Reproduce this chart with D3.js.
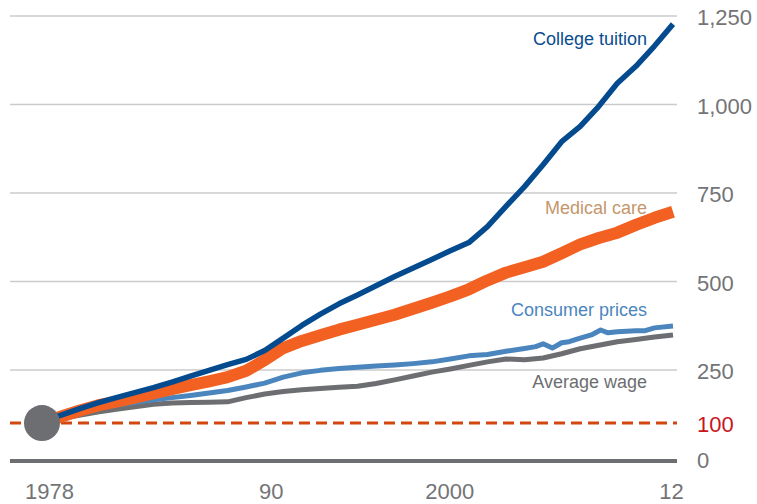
<!DOCTYPE html>
<html>
<head>
<meta charset="utf-8">
<script src="https://cdn.jsdelivr.net/npm/d3@7/dist/d3.min.js"></script>
<style>
  html, body { margin: 0; padding: 0; background: #fff; }
  svg { display: block; font-family: "Liberation Sans", Arial, Helvetica, sans-serif; }
</style>
</head>
<body>
<svg id="chart" width="757" height="504"></svg>
<script>
// Index, 1978 = 100
const years = [1978, 1979, 1980, 1981, 1982, 1983, 1984, 1985, 1986, 1987, 1988, 1989,
  1990, 1991, 1992, 1993, 1994, 1995, 1996, 1997, 1998, 1999, 2000, 2001, 2002, 2003,
  2004, 2005, 2006, 2007, 2008, 2009, 2010, 2011, 2012];

const collegeTuition = [100, 122, 140, 157, 172, 186, 200, 216, 233, 249, 265, 280,
  305, 340, 376, 408, 437, 462, 488, 514, 538, 562, 587, 610, 655, 712,
  768, 830, 895, 938, 995, 1060, 1108, 1165, 1227];

const medicalCare = [100, 118, 135, 150, 161, 172, 184, 196, 207, 218, 230, 248,
  278, 312, 332, 348, 364, 378, 392, 406, 423, 440, 458, 478, 503, 525,
  540, 556, 580, 605, 623, 638, 660, 680, 697];

const averageWage = [100, 112, 122, 131, 139, 146, 153, 157, 158, 159, 160, 172,
  182, 189, 194, 198, 201, 204, 212, 222, 233, 244, 253, 263, 273, 281,
  279, 284, 296, 310, 320, 330, 336, 343, 349];

// Consumer prices carry a few extra in-year readings
const cpiYears = [1978, 1979, 1980, 1981, 1982, 1983, 1984, 1985, 1986, 1987, 1988, 1989,
  1990, 1991, 1992, 1993, 1994, 1995, 1996, 1997, 1998, 1999, 2000, 2001, 2002, 2003,
  2004, 2004.6, 2005, 2005.5, 2006, 2006.4, 2007, 2007.6, 2008.1, 2008.5, 2009, 2010,
  2010.5, 2011, 2012];
const consumerPrices = [100, 118, 133, 144, 152, 159, 166, 172, 178, 185, 192, 202,
  213, 230, 242, 249, 254, 258, 261, 264, 268, 273, 281, 290, 294, 303,
  311, 316, 324, 312, 327, 330, 340, 349, 363, 355, 358, 361,
  361, 369, 374];

const yTicks = [0, 100, 250, 500, 750, 1000, 1250];
const gridValues = [250, 500, 750, 1000, 1250];
const xTicks = [1978, 1990, 2000, 2012];
const xTickLabels = ["1978", "90", "2000", "12"];

const svg = d3.select("#chart");
const W = 757, H = 504;

const x = d3.scaleLinear().domain([1978, 2012]).range([42, 673]);
const y = d3.scaleLinear().domain([0, 1250]).range([458.5, 16]);

const left = 10, right = 677;

// horizontal grid
svg.append("g")
  .selectAll("line")
  .data(gridValues)
  .join("line")
  .attr("x1", left).attr("x2", right)
  .attr("y1", d => y(d)).attr("y2", d => y(d))
  .attr("stroke", "#cbcbcb")
  .attr("stroke-width", 1.6);

// zero baseline
svg.append("line")
  .attr("x1", left).attr("x2", right)
  .attr("y1", y(0) + 2.5).attr("y2", y(0) + 2.5)
  .attr("stroke", "#6d6e71")
  .attr("stroke-width", 4);

// reference line at 100
svg.append("line")
  .attr("x1", left).attr("x2", right)
  .attr("y1", y(100)).attr("y2", y(100))
  .attr("stroke", "#d1470f")
  .attr("stroke-width", 3)
  .attr("stroke-dasharray", "11,6");

// y axis labels on the right
const yAxis = svg.append("g")
  .attr("transform", "translate(697,0)")
  .call(d3.axisRight(y).tickValues(yTicks).tickSize(0).tickPadding(0).tickFormat(d3.format(",")));
yAxis.select(".domain").remove();
yAxis.selectAll("text")
  .attr("dy", "0.4em")
  .attr("font-size", 22)
  .attr("font-family", "Liberation Sans, Arial, sans-serif")
  .attr("fill", d => d === 100 ? "#c8161d" : "#737477");

// x axis labels
const xOffsets = { 1978: 7, 1990: 6, 2000: -1, 2012: -2 };
const xAxis = svg.append("g")
  .attr("transform", "translate(0,483)")
  .call(d3.axisBottom(x).tickValues(xTicks).tickSize(0).tickPadding(0)
    .tickFormat((d, i) => xTickLabels[i]));
xAxis.select(".domain").remove();
xAxis.selectAll("text")
  .attr("dy", "0.72em")
  .attr("dx", d => xOffsets[d])
  .attr("font-size", 22)
  .attr("font-family", "Liberation Sans, Arial, sans-serif")
  .attr("fill", "#737477");

const line = d3.line()
  .x(d => x(d[0]))
  .y(d => y(d[1]))
  .curve(d3.curveLinear);

const series = [
  { name: "Average wage", xs: years, values: averageWage, color: "#6d6e71", width: 5 },
  { name: "Consumer prices", xs: cpiYears, values: consumerPrices, color: "#4a86bd", width: 5 },
  { name: "Medical care", xs: years, values: medicalCare, color: "#f26122", width: 12 },
  { name: "College tuition", xs: years, values: collegeTuition, color: "#044a8e", width: 5.5 }
];

svg.append("g")
  .selectAll("path")
  .data(series)
  .join("path")
  .attr("d", s => line(s.xs.map((yr, i) => [yr, s.values[i]])))
  .attr("fill", "none")
  .attr("stroke", s => s.color)
  .attr("stroke-width", s => s.width)
  .attr("stroke-linejoin", "round")
  .attr("stroke-linecap", "butt");

// starting point marker
svg.append("circle")
  .attr("cx", x(1978))
  .attr("cy", y(100))
  .attr("r", 18)
  .attr("fill", "#6d6e71");

// series labels
const labels = [
  { text: "College tuition", color: "#0b4c8f", yPos: 45 },
  { text: "Medical care", color: "#c4976c", yPos: 214 },
  { text: "Consumer prices", color: "#4a86bd", yPos: 316 },
  { text: "Average wage", color: "#6d6e71", yPos: 388 }
];
svg.append("g")
  .selectAll("text")
  .data(labels)
  .join("text")
  .attr("x", 647)
  .attr("y", d => d.yPos)
  .attr("text-anchor", "end")
  .attr("font-size", 18)
  .attr("fill", d => d.color)
  .text(d => d.text);
</script>
</body>
</html>
